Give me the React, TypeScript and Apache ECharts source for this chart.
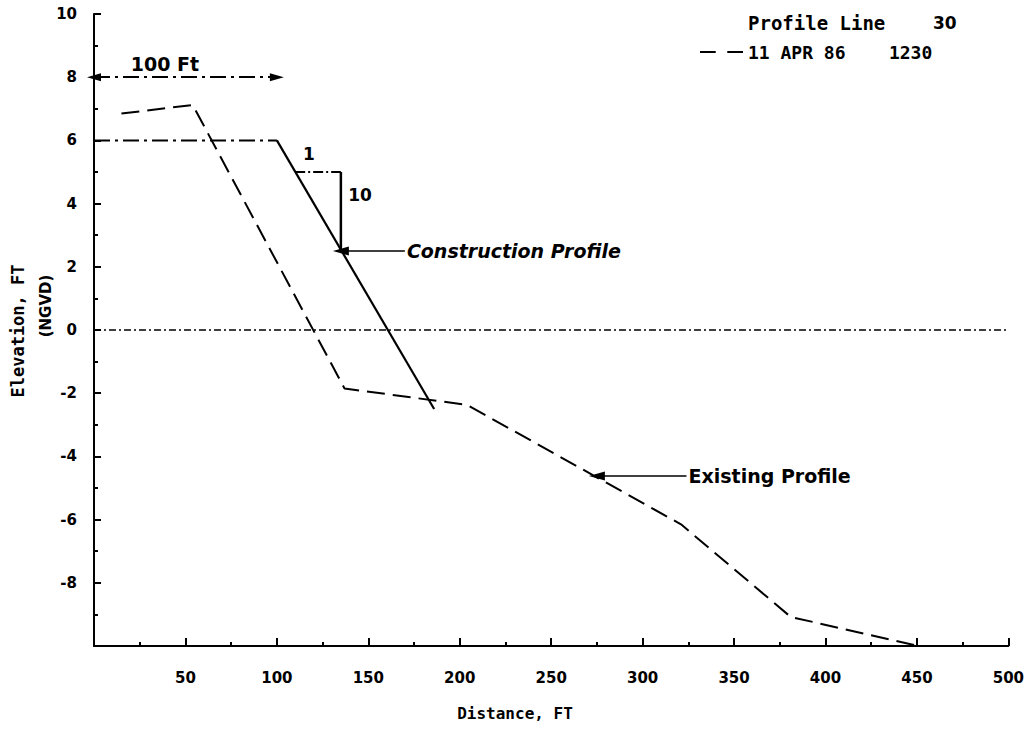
import React, { useEffect, useRef } from "react";
import * as echarts from "echarts";

// ---- data ----
const xTicks = [0, 50, 100, 150, 200, 250, 300, 350, 400, 450, 500];
const yTicks = [-10, -8, -6, -4, -2, 0, 2, 4, 6, 8, 10];
const constructionCrest = [[0, 6], [100, 6]];
const constructionSlope = [[100, 6], [186, -2.5]];
const existingProfile = [
  [15, 6.85], [54, 7.12], [137, -1.85], [204, -2.37], [321, -6.15], [381, -9.08], [451, -10],
];
const zeroLine = [[0, 0], [500, 0]];
const slopeRun = [[110, 5], [135, 5]];
const slopeRise = [[135, 5], [135, 2.5]];
const widthArrow = [[0, 8], [100, 8]];
const constructionPointer = [[135, 2.5], [170, 2.5]];
const existingPointer = [[275, -4.62], [324, -4.62]];
const legendName = "11 APR 86\u00a0\u00a0\u00a0\u00a01230";

const SANS = "DejaVu Sans";
const MONO = "DejaVu Sans Mono";
const INK = "#000";

export default function App() {
  const ref = useRef<HTMLDivElement>(null);
  useEffect(() => {
    if (!ref.current) return;
    const chart = echarts.init(ref.current, null, { renderer: "svg" });
    const dashDot = [16, 5, 3, 5];
    const option: any = {
      animation: false,
      backgroundColor: "#fff",
      grid: { left: 94, right: 17, top: 14, bottom: 96 },
      xAxis: {
        type: "value",
        min: xTicks[0],
        max: xTicks[xTicks.length - 1],
        interval: 50,
        axisLine: { show: true, onZero: false, lineStyle: { color: INK, width: 2 } },
        axisTick: { show: true, inside: true, length: 8, lineStyle: { color: INK, width: 2 } },
        minorTick: { show: true, splitNumber: 2, length: 4, lineStyle: { color: INK, width: 2 } },
        splitLine: { show: false },
        axisLabel: {
          margin: 24,
          color: INK,
          fontFamily: SANS,
          fontWeight: "bold",
          fontSize: 15,
          formatter: (v: number) => (v === xTicks[0] ? "" : String(v)),
        },
      },
      yAxis: {
        type: "value",
        min: yTicks[0],
        max: yTicks[yTicks.length - 1],
        interval: 2,
        axisLine: { show: true, onZero: false, lineStyle: { color: INK, width: 2 } },
        axisTick: { show: true, inside: true, length: 7, lineStyle: { color: INK, width: 2 } },
        minorTick: { show: true, splitNumber: 2, length: 4, lineStyle: { color: INK, width: 2 } },
        splitLine: { show: false },
        axisLabel: {
          margin: 17,
          color: INK,
          fontFamily: SANS,
          fontWeight: "bold",
          fontSize: 15,
          formatter: (v: number) => (v === yTicks[0] ? "" : String(v)),
        },
      },
      legend: {
        show: true,
        data: [
          {
            name: legendName,
            icon: "path://M0,0 H15 V2 H0 Z M26,0 H41 V2 H26 Z",
            itemStyle: { color: INK, borderWidth: 0 },
          },
        ],
        left: 695,
        top: 38,
        itemWidth: 43,
        itemHeight: 3,
        itemStyle: { color: INK, borderWidth: 0 },
        lineStyle: { width: 0 },
        textStyle: { color: INK, fontFamily: MONO, fontWeight: "bold", fontSize: 18 },
        selectedMode: false,
      },
      series: [
        {
          name: "Zero",
          type: "line",
          data: zeroLine,
          symbol: "none",
          silent: true,
          lineStyle: { color: INK, width: 1.5, type: [7, 3, 2, 3] },
        },
        {
          name: "Construction crest",
          type: "line",
          data: constructionCrest,
          symbol: "none",
          silent: true,
          lineStyle: { color: INK, width: 2, type: dashDot },
        },
        {
          name: "Construction Profile",
          type: "line",
          data: constructionSlope,
          symbol: "none",
          silent: true,
          lineStyle: { color: INK, width: 2.2, type: "solid" },
        },
        {
          name: legendName,
          type: "line",
          data: existingProfile,
          symbol: "none",
          silent: true,
          lineStyle: { color: INK, width: 2, type: [18, 8] },
          itemStyle: { color: INK },
        },
        {
          name: "Slope run",
          type: "line",
          data: slopeRun,
          symbol: "none",
          silent: true,
          lineStyle: { color: INK, width: 2, type: [10, 3, 2, 3] },
        },
        {
          name: "Slope rise",
          type: "line",
          data: slopeRise,
          symbol: "none",
          silent: true,
          lineStyle: { color: INK, width: 2.5, type: "solid" },
        },
        {
          name: "Annotations",
          type: "line",
          data: [],
          silent: true,
          markLine: {
            silent: true,
            animation: false,
            symbolSize: [9, 16],
            data: [
              [
                { coord: widthArrow[0], symbol: "triangle", symbolSize: [8, 14], lineStyle: { color: INK, width: 2, type: dashDot }, label: { show: false } },
                { coord: widthArrow[1], symbol: "triangle", symbolSize: [8, 14] },
              ],
              [
                {
                  coord: constructionPointer[0],
                  symbol: "triangle",
                  lineStyle: { color: INK, width: 1.5, type: "solid" },
                  label: {
                    show: true,
                    position: "end",
                    distance: 2,
                    formatter: "Construction Profile",
                    color: INK,
                    fontFamily: SANS,
                    fontWeight: "bold",
                    fontStyle: "italic",
                    fontSize: 19,
                  },
                },
                { coord: constructionPointer[1], symbol: "none" },
              ],
              [
                {
                  coord: existingPointer[0],
                  symbol: "triangle",
                  lineStyle: { color: INK, width: 1.5, type: "solid" },
                  label: {
                    show: true,
                    position: "end",
                    distance: 2,
                    formatter: "Existing Profile",
                    color: INK,
                    fontFamily: SANS,
                    fontWeight: "bold",
                    fontSize: 19,
                  },
                },
                { coord: existingPointer[1], symbol: "none" },
              ],
            ],
          },
        },
      ],
      graphic: [
        { type: "text", left: 748, top: 13, style: { text: "Profile Line", fill: INK, font: `bold 19px "${MONO}"` } },
        { type: "text", left: 933, top: 14, style: { text: "30", fill: INK, font: `bold 17px "${SANS}"` } },
        { type: "text", x: 165, y: 64, style: { text: "100 Ft", fill: INK, font: `bold 19px "${SANS}"`, align: "center", verticalAlign: "middle" } },
        { type: "text", x: 309, y: 154, style: { text: "1", fill: INK, font: `bold 17px "${SANS}"`, align: "center", verticalAlign: "middle" } },
        { type: "text", x: 360, y: 195, style: { text: "10", fill: INK, font: `bold 17px "${SANS}"`, align: "center", verticalAlign: "middle" } },
        { type: "text", x: 18, y: 331, rotation: Math.PI / 2, style: { text: "Elevation, FT", fill: INK, font: `bold 17px "${MONO}"`, align: "center", verticalAlign: "middle" } },
        { type: "text", x: 46, y: 306, rotation: Math.PI / 2, style: { text: "(NGVD)", fill: INK, fontFamily: SANS, fontWeight: "bold", fontSize: 15, align: "center", verticalAlign: "middle" } },
        { type: "text", x: 515, y: 713, style: { text: "Distance, FT", fill: INK, font: `bold 16px "${MONO}"`, align: "center", verticalAlign: "middle" } },
      ],
    };
    chart.setOption(option);
    return () => chart.dispose();
  }, []);
  return (
    <div
      ref={ref}
      style={{ position: "fixed", left: 0, top: 0, width: 1027, height: 742, background: "#fff" }}
    />
  );
}
